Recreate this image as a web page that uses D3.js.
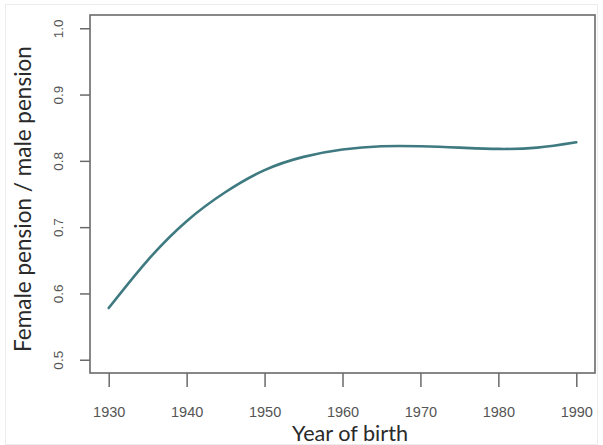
<!DOCTYPE html>
<html>
<head>
<meta charset="utf-8">
<script src="https://cdn.jsdelivr.net/npm/d3@7/dist/d3.min.js"></script>
<style>
  html, body { margin: 0; padding: 0; background: #fff; }
  svg { display: block; }
</style>
</head>
<body>
<svg id="chart" width="603" height="445"></svg>
<script>
// ---- data ----
const years  = [1930, 1935, 1940, 1945, 1950, 1955, 1960, 1965, 1970, 1975, 1980, 1985, 1990];
const ratio  = [0.578, 0.650, 0.709, 0.753, 0.786, 0.806, 0.817, 0.822, 0.822, 0.820, 0.818, 0.820, 0.828];
const xTicks = [1930, 1940, 1950, 1960, 1970, 1980, 1990];
const yTicks = [0.5, 0.6, 0.7, 0.8, 0.9, 1.0];
const xTitle = "Year of birth";
const yTitle = "Female pension / male pension";

// ---- layout ----
const W = 603, H = 445;
const box = { left: 90, right: 595, top: 15, bottom: 373 };
const svg = d3.select("#chart");

svg.append("rect").attr("x", 5.5).attr("y", 4.5).attr("width", W - 11).attr("height", H - 5)
  .attr("fill", "none").attr("stroke", "#ececec").attr("stroke-width", 1);

const x = d3.scaleLinear().domain([1927.6, 1992.4]).range([box.left, box.right]);
const y = d3.scaleLinear().domain([0.48, 1.02]).range([box.bottom, box.top]);

const axisColor = "#6a6a6a";
const labelColor = "#555";

// x axis (ticks below the box)
const gx = svg.append("g").attr("transform", `translate(0,${box.bottom})`)
  .call(d3.axisBottom(x).tickValues(xTicks).tickFormat(d3.format("d")).tickSize(14).tickPadding(20));
gx.select(".domain").remove();
gx.selectAll(".tick line").attr("stroke", axisColor).attr("stroke-width", 1.5).attr("y1", 0);
gx.selectAll(".tick text").attr("fill", labelColor)
  .style("font-family", "'Liberation Sans', Arial, sans-serif").style("font-size", "14.5px");

// y axis (ticks left of the box, rotated labels)
const gy = svg.append("g").attr("transform", `translate(${box.left},0)`)
  .call(d3.axisLeft(y).tickValues(yTicks).tickFormat(d3.format(".1f")).tickSize(10));
gy.select(".domain").remove();
gy.selectAll(".tick line").attr("stroke", axisColor).attr("stroke-width", 1.5);
gy.selectAll(".tick text")
  .attr("x", null).attr("dy", null)
  .attr("text-anchor", "middle")
  .attr("dominant-baseline", "central")
  .attr("transform", "translate(-32,0) rotate(-90)")
  .attr("fill", labelColor)
  .style("font-family", "'Liberation Sans', Arial, sans-serif").style("font-size", "13.5px");

// plot box
svg.append("rect")
  .attr("x", box.left).attr("y", box.top)
  .attr("width", box.right - box.left).attr("height", box.bottom - box.top)
  .attr("fill", "none").attr("stroke", axisColor).attr("stroke-width", 1.6);

// curve
const line = d3.line().x((d, i) => x(years[i])).y(d => y(d)).curve(d3.curveNatural);
svg.append("path").datum(ratio)
  .attr("d", line)
  .attr("fill", "none").attr("stroke", "#3e7a80").attr("stroke-width", 2.6)
  .attr("stroke-linecap", "round");

// titles, fitted to the reference widths
function fit(sel, target) {
  const len = sel.node().getComputedTextLength();
  const fs = parseFloat(sel.style("font-size"));
  sel.style("font-size", (fs * target / len).toFixed(2) + "px");
}
const xt = svg.append("text").text(xTitle)
  .attr("x", 350).attr("y", 441).attr("text-anchor", "middle")
  .attr("fill", "#2a2a2a")
  .style("font-family", "Lato, 'Open Sans', sans-serif").style("font-size", "17px");
fit(xt, 116);

const yt = svg.append("text").text(yTitle)
  .attr("transform", "translate(31,199) rotate(-90)").attr("text-anchor", "middle")
  .attr("fill", "#2a2a2a")
  .style("font-family", "Lato, 'Open Sans', sans-serif").style("font-size", "17px");
fit(yt, 306);
</script>
</body>
</html>
